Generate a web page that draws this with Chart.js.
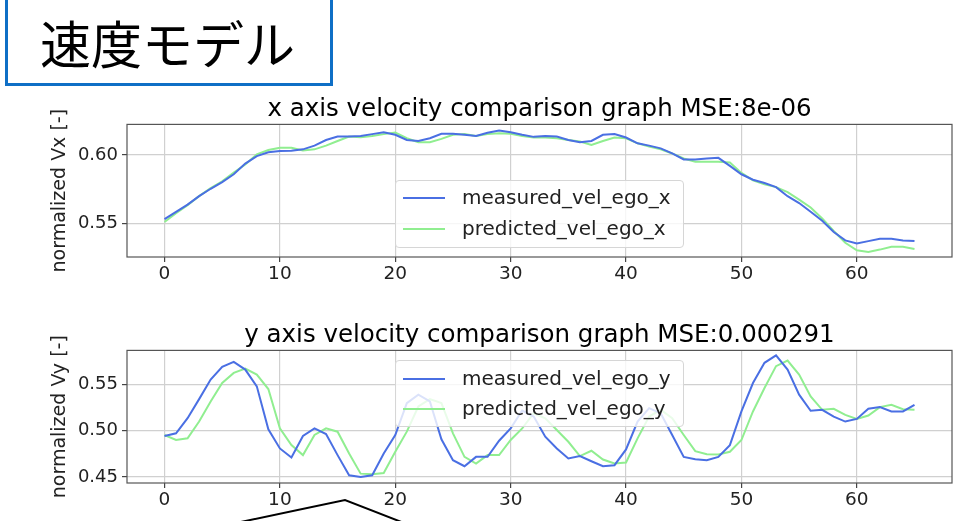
<!DOCTYPE html>
<html>
<head>
<meta charset="utf-8">
<script src="https://cdn.jsdelivr.net/npm/chart.js@4.4.1/dist/chart.umd.min.js"></script>
<style>
  html, body { margin: 0; padding: 0; background: #fff; }
  body { width: 955px; height: 521px; position: relative; overflow: hidden; font-family: 'DejaVu Sans', sans-serif; }
  #titleBox { position: absolute; left: 5px; top: -6px; width: 322px; height: 86px; border: 3px solid #0f6fc6; box-sizing: content-box; }
  #titleText { position: absolute; left: 40px; top: 12px; font-family: 'Noto Sans CJK JP', sans-serif; font-size: 51px; line-height: 60px; color: #000; white-space: nowrap; }
  canvas { position: absolute; left: 0; }
  .legend { position: absolute; background: rgba(255,255,255,0.8); border: 1px solid #d6d6d6; border-radius: 4px; box-sizing: border-box; }
  .legend .row { position: absolute; left: 0; height: 30px; width: 100%; }
  .legend .swatch { position: absolute; left: 7px; width: 42px; height: 0; border-top: 2px solid; }
  .legend .lab { position: absolute; left: 66px; font-size: 20px; line-height: 24px; color: #222; white-space: nowrap; }
  svg { position: absolute; left: 0; top: 0; }
</style>
</head>
<body>
<div id="titleBox"></div>
<div id="titleText">速度モデル</div>
<canvas id="cx" width="955" height="200" style="top:90px"></canvas>
<canvas id="cy" width="955" height="200" style="top:316px"></canvas>
<div id="legx" class="legend" style="left:395px; top:180px; width:289px; height:68px;"></div>
<div id="legy" class="legend" style="left:395px; top:360px; width:289px; height:67px;"></div>
<svg width="955" height="521"><polyline points="236,523 345,500 404,523" fill="none" stroke="#000" stroke-width="2"/></svg>
<script>
const frames = [0,1,2,3,4,5,6,7,8,9,10,11,12,13,14,15,16,17,18,19,20,21,22,23,24,25,26,27,28,29,30,31,32,33,34,35,36,37,38,39,40,41,42,43,44,45,46,47,48,49,50,51,52,53,54,55,56,57,58,59,60,61,62,63,64,65];

const measuredVx = [0.5532,0.5586,0.5638,0.5700,0.5754,0.5803,0.5860,0.5938,0.5993,0.6020,0.6030,0.6032,0.6042,0.6069,0.6110,0.6135,0.6135,0.6140,0.6153,0.6167,0.6148,0.6110,0.6103,0.6123,0.6155,0.6155,0.6148,0.6140,0.6163,0.6180,0.6167,0.6148,0.6133,0.6140,0.6135,0.6110,0.6094,0.6103,0.6148,0.6153,0.6128,0.6086,0.6069,0.6049,0.6012,0.5968,0.5968,0.5975,0.5980,0.5921,0.5860,0.5820,0.5796,0.5766,0.5700,0.5650,0.5586,0.5520,0.5438,0.5377,0.5355,0.5372,0.5389,0.5389,0.5377,0.5372];
const predictedVx = [0.5512,0.5576,0.5635,0.5700,0.5759,0.5808,0.5872,0.5931,0.6005,0.6037,0.6054,0.6054,0.6034,0.6042,0.6069,0.6103,0.6135,0.6130,0.6140,0.6153,0.6165,0.6123,0.6094,0.6094,0.6118,0.6148,0.6153,0.6140,0.6153,0.6160,0.6155,0.6140,0.6128,0.6128,0.6123,0.6110,0.6099,0.6074,0.6103,0.6128,0.6123,0.6086,0.6062,0.6042,0.6012,0.5975,0.5951,0.5951,0.5951,0.5946,0.5870,0.5815,0.5786,0.5766,0.5729,0.5675,0.5618,0.5537,0.5446,0.5360,0.5305,0.5293,0.5310,0.5330,0.5330,0.5315];

const measuredVy = [0.4942,0.4971,0.5134,0.5340,0.5551,0.5688,0.5743,0.5659,0.5478,0.5014,0.4808,0.4710,0.4942,0.5025,0.4964,0.4736,0.4518,0.4500,0.4518,0.4754,0.4953,0.5297,0.5388,0.5315,0.4906,0.4681,0.4616,0.4717,0.4717,0.4891,0.5025,0.5217,0.5152,0.4935,0.4808,0.4700,0.4725,0.4670,0.4616,0.4627,0.4797,0.5098,0.5243,0.5188,0.4953,0.4717,0.4692,0.4681,0.4717,0.4844,0.5207,0.5514,0.5732,0.5812,0.5659,0.5388,0.5214,0.5225,0.5152,0.5098,0.5127,0.5236,0.5254,0.5207,0.5207,0.5279];
const predictedVy = [0.4953,0.4899,0.4917,0.5098,0.5315,0.5514,0.5623,0.5670,0.5605,0.5449,0.5025,0.4844,0.4736,0.4953,0.5025,0.4989,0.4754,0.4536,0.4529,0.4543,0.4772,0.4989,0.5261,0.5340,0.5297,0.4971,0.4717,0.4645,0.4736,0.4736,0.4899,0.5025,0.5188,0.5134,0.5007,0.4880,0.4725,0.4783,0.4688,0.4645,0.4656,0.4917,0.5152,0.5225,0.5134,0.4953,0.4779,0.4746,0.4743,0.4772,0.4899,0.5207,0.5460,0.5696,0.5757,0.5605,0.5370,0.5225,0.5236,0.5170,0.5127,0.5163,0.5254,0.5279,0.5232,0.5225];

const xTicks = [0,10,20,30,40,50,60];
const vxTicks = [0.55,0.60];
const vyTicks = [0.45,0.50,0.55];

const seriesLabelsX = ['measured_vel_ego_x','predicted_vel_ego_x'];
const seriesLabelsY = ['measured_vel_ego_y','predicted_vel_ego_y'];
const titleX = 'x axis velocity comparison graph MSE:8e-06';
const titleY = 'y axis velocity comparison graph MSE:0.000291';
const yLabelX = 'normalized Vx [-]';
const yLabelY = 'normalized Vy [-]';

const colMeasured = '#4a6fe3';
const colPredicted = '#90ee90';

const FONT = "'DejaVu Sans', sans-serif";

const framePlugin = {
  id: 'frame',
  afterDraw(chart) {
    const a = chart.chartArea, c = chart.ctx;
    c.save();
    c.strokeStyle = '#555';
    c.lineWidth = 1.2;
    c.strokeRect(a.left, a.top, a.right - a.left, a.bottom - a.top);
    c.restore();
  }
};

function makeChart(id, title, ylab, labels, meas, pred, yTicks, ymin, ymax) {
  const pts = arr => frames.map((f, i) => ({x: f, y: arr[i]}));
  return new Chart(document.getElementById(id), {
    type: 'line',
    data: {
      datasets: [
        { label: labels[0], data: pts(meas), borderColor: colMeasured, borderWidth: 2, pointRadius: 0, tension: 0, fill: false },
        { label: labels[1], data: pts(pred), borderColor: colPredicted, borderWidth: 2, pointRadius: 0, tension: 0, fill: false }
      ]
    },
    options: {
      responsive: false,
      animation: false,
      layout: { padding: { left: 44, right: 3, top: 0, bottom: 0 } },
      plugins: {
        legend: { display: false },
        tooltip: { enabled: false },
        title: { display: true, fullSize: false, text: title, color: '#000', font: { family: FONT, size: 24.5, weight: 'normal' }, padding: { top: 5, bottom: 0 } }
      },
      scales: {
        x: {
          type: 'linear', min: -3.25, max: 68.25,
          afterBuildTicks: s => { s.ticks = xTicks.map(v => ({value: v})); },
          afterFit: s => { s.height = 33; },
          grid: { color: '#d0d0d0', lineWidth: 1.2, drawTicks: true, tickLength: 5, tickColor: '#444' },
          border: { display: false },
          ticks: { color: '#222', font: { family: FONT, size: 18.5 }, padding: 1, autoSkip: false, maxRotation: 0, callback: v => String(v) }
        },
        y: {
          type: 'linear', min: ymin, max: ymax,
          afterBuildTicks: s => { s.ticks = yTicks.map(v => ({value: v})); },
          afterFit: s => { s.width = 83; },
          grid: { color: '#d0d0d0', lineWidth: 1.2, drawTicks: true, tickLength: 5, tickColor: '#444' },
          border: { display: false },
          title: { display: true, text: ylab, color: '#222', font: { family: FONT, size: 19 }, padding: { top: 5, bottom: 0 } },
          ticks: { color: '#222', font: { family: FONT, size: 18 }, padding: 4, callback: v => v.toFixed(2) }
        }
      }
    },
    plugins: [framePlugin]
  });
}

const chartX = makeChart('cx', titleX, yLabelX, seriesLabelsX, measuredVx, predictedVx, vxTicks, 0.5256, 0.6224);
const chartY = makeChart('cy', titleY, yLabelY, seriesLabelsY, measuredVy, predictedVy, vyTicks, 0.4435, 0.5866);

function buildLegend(id, chart, rowTops) {
  const el = document.getElementById(id);
  chart.data.datasets.forEach((ds, i) => {
    const row = document.createElement('div');
    row.className = 'row';
    row.style.top = rowTops[i] + 'px';
    const sw = document.createElement('div');
    sw.className = 'swatch';
    sw.style.borderTopColor = ds.borderColor;
    sw.style.top = '15px';
    const lab = document.createElement('div');
    lab.className = 'lab';
    lab.style.top = '3px';
    lab.textContent = ds.label;
    row.appendChild(sw); row.appendChild(lab);
    el.appendChild(row);
  });
}
buildLegend('legx', chartX, [1, 32]);
buildLegend('legy', chartY, [2, 32]);
</script>
</body>
</html>
